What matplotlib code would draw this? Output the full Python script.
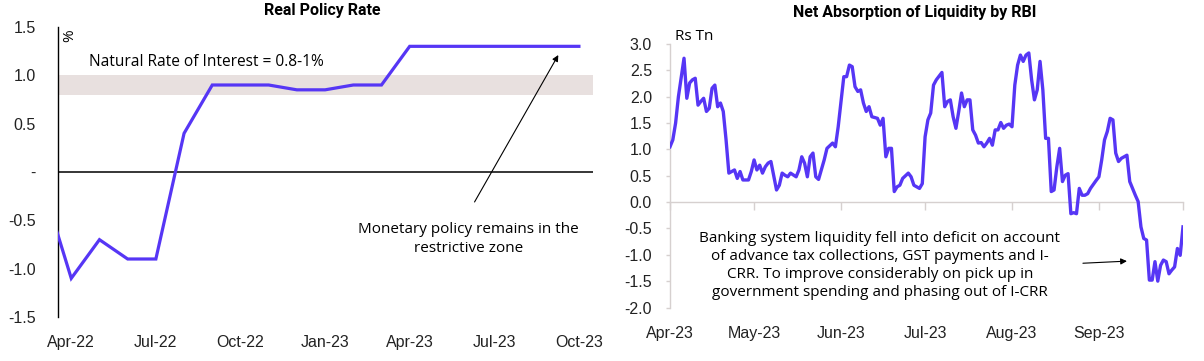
import numpy as np
import pandas as pd
import matplotlib
matplotlib.use("Agg")
import matplotlib.pyplot as plt
import matplotlib.dates as mdates
from matplotlib.ticker import FixedLocator, FixedFormatter

LINE = "#5636F5"
BAND = "#E8E0DF"
AXIS_GREY = "#D6D0CF"
TICK_FONT = "Liberation Sans"
TEXT_FONT = "Open Sans"
TITLE_FONT = "Roboto"

# ---- left panel: real policy rate (monthly, Mar-22 .. Oct-23) ----
months = ["Mar-22", "Apr-22", "May-22", "Jun-22", "Jul-22", "Aug-22", "Sep-22",
          "Oct-22", "Nov-22", "Dec-22", "Jan-23", "Feb-23", "Mar-23", "Apr-23",
          "May-23", "Jun-23", "Jul-23", "Aug-23", "Sep-23", "Oct-23"]
real_rate = [-0.15, -1.1, -0.7, -0.9, -0.9, 0.4, 0.9, 0.9, 0.9, 0.85, 0.85,
             0.9, 0.9, 1.3, 1.3, 1.3, 1.3, 1.3, 1.3, 1.3]
neutral_band = (0.8, 1.0)
left_xticks = ["Apr-22", "Jul-22", "Oct-22", "Jan-23", "Apr-23", "Jul-23", "Oct-23"]
left_yticks = [-1.5, -1.0, -0.5, 0, 0.5, 1.0, 1.5]
left_ylabels = ["-1.5", "-1.0", "-0.5", "-", "0.5", "1.0", "1.5"]

# ---- right panel: net absorption of liquidity (days after 1 Apr 2023, Rs tn) ----
liq_day = [0, 1, 2, 3, 5, 6, 7, 8, 9, 10, 11, 12, 13, 14, 15, 16, 17, 18, 19, 20,
           21, 22, 23, 24, 25, 26, 28, 29, 30, 31, 32, 33, 34, 35, 36, 38, 39, 40,
           41, 42, 43, 45, 46, 47, 48, 49, 50, 51, 52, 53, 55, 56, 58, 59, 60, 62,
           63, 64, 65, 66, 67, 68, 69, 70, 71, 72, 74, 75, 76, 77, 78, 79, 80, 81,
           82, 83, 85, 86, 87, 89, 90, 91, 92, 93, 94, 95, 97, 98, 99, 100, 101,
           102, 103, 104, 105, 106, 107, 108, 109, 110, 111, 112, 113, 114, 115,
           116, 117, 118, 119, 120, 121, 122, 123, 124, 125, 126, 127, 128, 129,
           130, 131, 132, 133, 134, 135, 136, 137, 138, 139, 140, 141, 142, 143,
           144, 145, 146, 147, 148, 149, 150, 152, 153, 154, 155, 156, 157, 158,
           159, 160, 161, 163, 164, 165, 166, 167, 168, 169, 170, 171, 172, 173,
           174, 175, 176, 177, 178, 179, 180, 181, 182, 183]
liq_val = [1.05, 1.18, 1.50, 2.00, 2.73, 1.97, 2.26, 2.32, 2.35, 1.84, 1.91, 1.97,
           1.72, 1.78, 2.16, 2.22, 1.81, 1.88, 1.72, 1.18, 0.55, 0.58, 0.61, 0.45,
           0.58, 0.42, 0.42, 0.58, 0.80, 0.61, 0.70, 0.55, 0.67, 0.74, 0.77, 0.23,
           0.32, 0.55, 0.51, 0.48, 0.55, 0.48, 0.61, 0.86, 0.74, 0.48, 0.86, 0.93,
           0.48, 0.43, 0.80, 1.02, 1.12, 1.05, 1.43, 2.38, 2.38, 2.60, 2.57, 2.19,
           2.10, 2.13, 1.88, 1.72, 1.81, 1.62, 1.59, 1.46, 1.59, 0.86, 1.02, 1.02,
           0.20, 0.29, 0.32, 0.45, 0.55, 0.48, 0.32, 0.26, 0.35, 1.24, 1.56, 1.69,
           2.22, 2.32, 2.46, 1.81, 1.91, 1.94, 1.62, 1.40, 1.72, 2.07, 1.81, 1.94,
           1.94, 1.37, 1.27, 1.12, 1.13, 1.05, 1.12, 1.21, 1.08, 1.37, 1.37, 1.51,
           1.40, 1.46, 1.48, 1.43, 2.22, 2.60, 2.79, 2.67, 2.79, 2.83, 2.32, 1.94,
           2.13, 2.67, 2.13, 1.21, 1.21, 0.20, 0.23, 0.67, 1.02, 0.39, 0.51, 0.54,
           -0.22, -0.20, -0.22, 0.26, 0.13, 0.13, 0.16, 0.26, 0.41, 0.48, 0.80,
           1.18, 1.34, 1.59, 1.56, 0.93, 0.77, 0.83, 0.89, 0.39, 0.26, 0.13, 0.01,
           -0.47, -0.69, -0.72, -1.48, -1.48, -1.13, -1.50, -1.20, -1.10, -1.13,
           -1.36, -1.29, -1.23, -0.88, -1.01, -0.47]
start = pd.Timestamp("2023-04-01")
liq_dates = start + pd.to_timedelta(liq_day, unit="D")
right_yticks = [-2.0, -1.5, -1.0, -0.5, 0.0, 0.5, 1.0, 1.5, 2.0, 2.5, 3.0]

W, H = 1204, 361
fig = plt.figure(figsize=(W / 100, H / 100), dpi=100)

# ================= left =================
ax1 = fig.add_axes([58 / W, 1 - 317 / H, (593 - 58) / W, (317 - 27) / H])
x = np.arange(len(months))
ax1.axhspan(*neutral_band, color=BAND, lw=0, zorder=0)
ax1.axhline(0, color="black", lw=1.1, zorder=1)
ax1.plot(x, real_rate, color=LINE, lw=2.3, zorder=3, solid_joinstyle="miter")
ax1.set_xlim(0.53, 19.5)
ax1.set_ylim(-1.5, 1.5)
for s in ["top", "right", "bottom"]:
    ax1.spines[s].set_visible(False)
ax1.spines["left"].set_color("black")
ax1.spines["left"].set_linewidth(1.0)
ax1.xaxis.set_major_locator(FixedLocator([months.index(m) for m in left_xticks]))
ax1.xaxis.set_major_formatter(FixedFormatter(left_xticks))
ax1.yaxis.set_major_locator(FixedLocator(left_yticks))
ax1.yaxis.set_major_formatter(FixedFormatter(left_ylabels))
ax1.tick_params(axis="x", length=0, pad=13, labelsize=11.5)
ax1.tick_params(axis="y", length=0, pad=16, labelsize=11.5)
for lab in ax1.get_xticklabels() + ax1.get_yticklabels():
    lab.set_fontfamily(TICK_FONT)
    lab.set_color("#222222")

ax1.text(0.93, 1.41, "%", rotation=90, ha="center", va="center",
         fontsize=11, family=TEXT_FONT)
ax1.text(1.64, 1.14, "Natural Rate of Interest = 0.8-1%", ha="left", va="center",
         fontsize=11.2, family=TEXT_FONT)
ax1.annotate("", xy=(18.27, 1.21), xytext=(15.3, -0.31),
             arrowprops=dict(arrowstyle="-|>", color="black", lw=0.8,
                             mutation_scale=9, shrinkA=0, shrinkB=0))
ax1.text(15.08, -0.69, "Monetary policy remains in the\nrestrictive zone",
         ha="center", va="center", fontsize=11, linespacing=1.35, family=TEXT_FONT)

fig.text(322 / W, 1 - 11 / H, "Real Policy Rate", ha="center", va="center",
         fontsize=11.5, fontweight="bold", family=TITLE_FONT)

# ================= right =================
ax2 = fig.add_axes([670 / W, 1 - 307.5 / H, (1183 - 670) / W, (307.5 - 44) / H])
ax2.plot(liq_dates, liq_val, color=LINE, lw=2.4, zorder=3)
ax2.set_xlim(start, pd.Timestamp("2023-10-01"))
ax2.set_ylim(-2.0, 3.0)
for s in ["top", "right", "bottom"]:
    ax2.spines[s].set_visible(False)
ax2.spines["left"].set_color(AXIS_GREY)
ax2.spines["left"].set_linewidth(1.0)
ax2.xaxis.set_major_locator(mdates.MonthLocator())
# no label at the closing Oct-23 tick
ax2.xaxis.set_major_formatter(
    plt.FuncFormatter(lambda v, p: "" if mdates.num2date(v).month == 10
                      else mdates.num2date(v).strftime("%b-%y")))
ax2.yaxis.set_major_locator(FixedLocator(right_yticks))
ax2.yaxis.set_major_formatter(FixedFormatter([f"{v:.1f}" for v in right_yticks]))
ax2.tick_params(axis="x", length=0, pad=13, labelsize=11.5)
ax2.tick_params(axis="y", length=3, width=1, color=AXIS_GREY, pad=10, labelsize=11.5)
for lab in ax2.get_xticklabels() + ax2.get_yticklabels():
    lab.set_fontfamily(TICK_FONT)
    lab.set_color("#222222")

# zero axis with month ticks
zero_frac = (0 - (-2.0)) / 5.0
sec = ax2.secondary_xaxis(zero_frac)
sec.xaxis.set_major_locator(mdates.MonthLocator())
sec.tick_params(axis="x", length=6, width=1, color=AXIS_GREY, labelbottom=False,
                labeltop=False)
for s in sec.spines.values():
    s.set_color(AXIS_GREY)
    s.set_linewidth(1.0)

ax2.text(start + pd.Timedelta(days=8.6), 3.14, "Rs Tn", ha="center", va="center",
         fontsize=11, family=TEXT_FONT, clip_on=False)
ax2.text(start + pd.Timedelta(days=74.9), -1.20,
         "Banking system liquidity fell into deficit on account\n"
         "of advance tax collections, GST payments and I-\n"
         "CRR. To improve considerably on pick up in\n"
         "government spending and phasing out of I-CRR",
         ha="center", va="center", fontsize=11, linespacing=1.26, family=TEXT_FONT)
ax2.annotate("", xy=(start + pd.Timedelta(days=163), -1.12),
             xytext=(start + pd.Timedelta(days=147.3), -1.16),
             arrowprops=dict(arrowstyle="-|>", color="black", lw=0.8,
                             mutation_scale=9, shrinkA=0, shrinkB=0))

fig.text(915 / W, 1 - 13 / H, "Net Absorption of Liquidity by RBI", ha="center",
         va="center", fontsize=11.5, fontweight="bold", family=TITLE_FONT)

fig.savefig("out.png", dpi=100, facecolor="white")
